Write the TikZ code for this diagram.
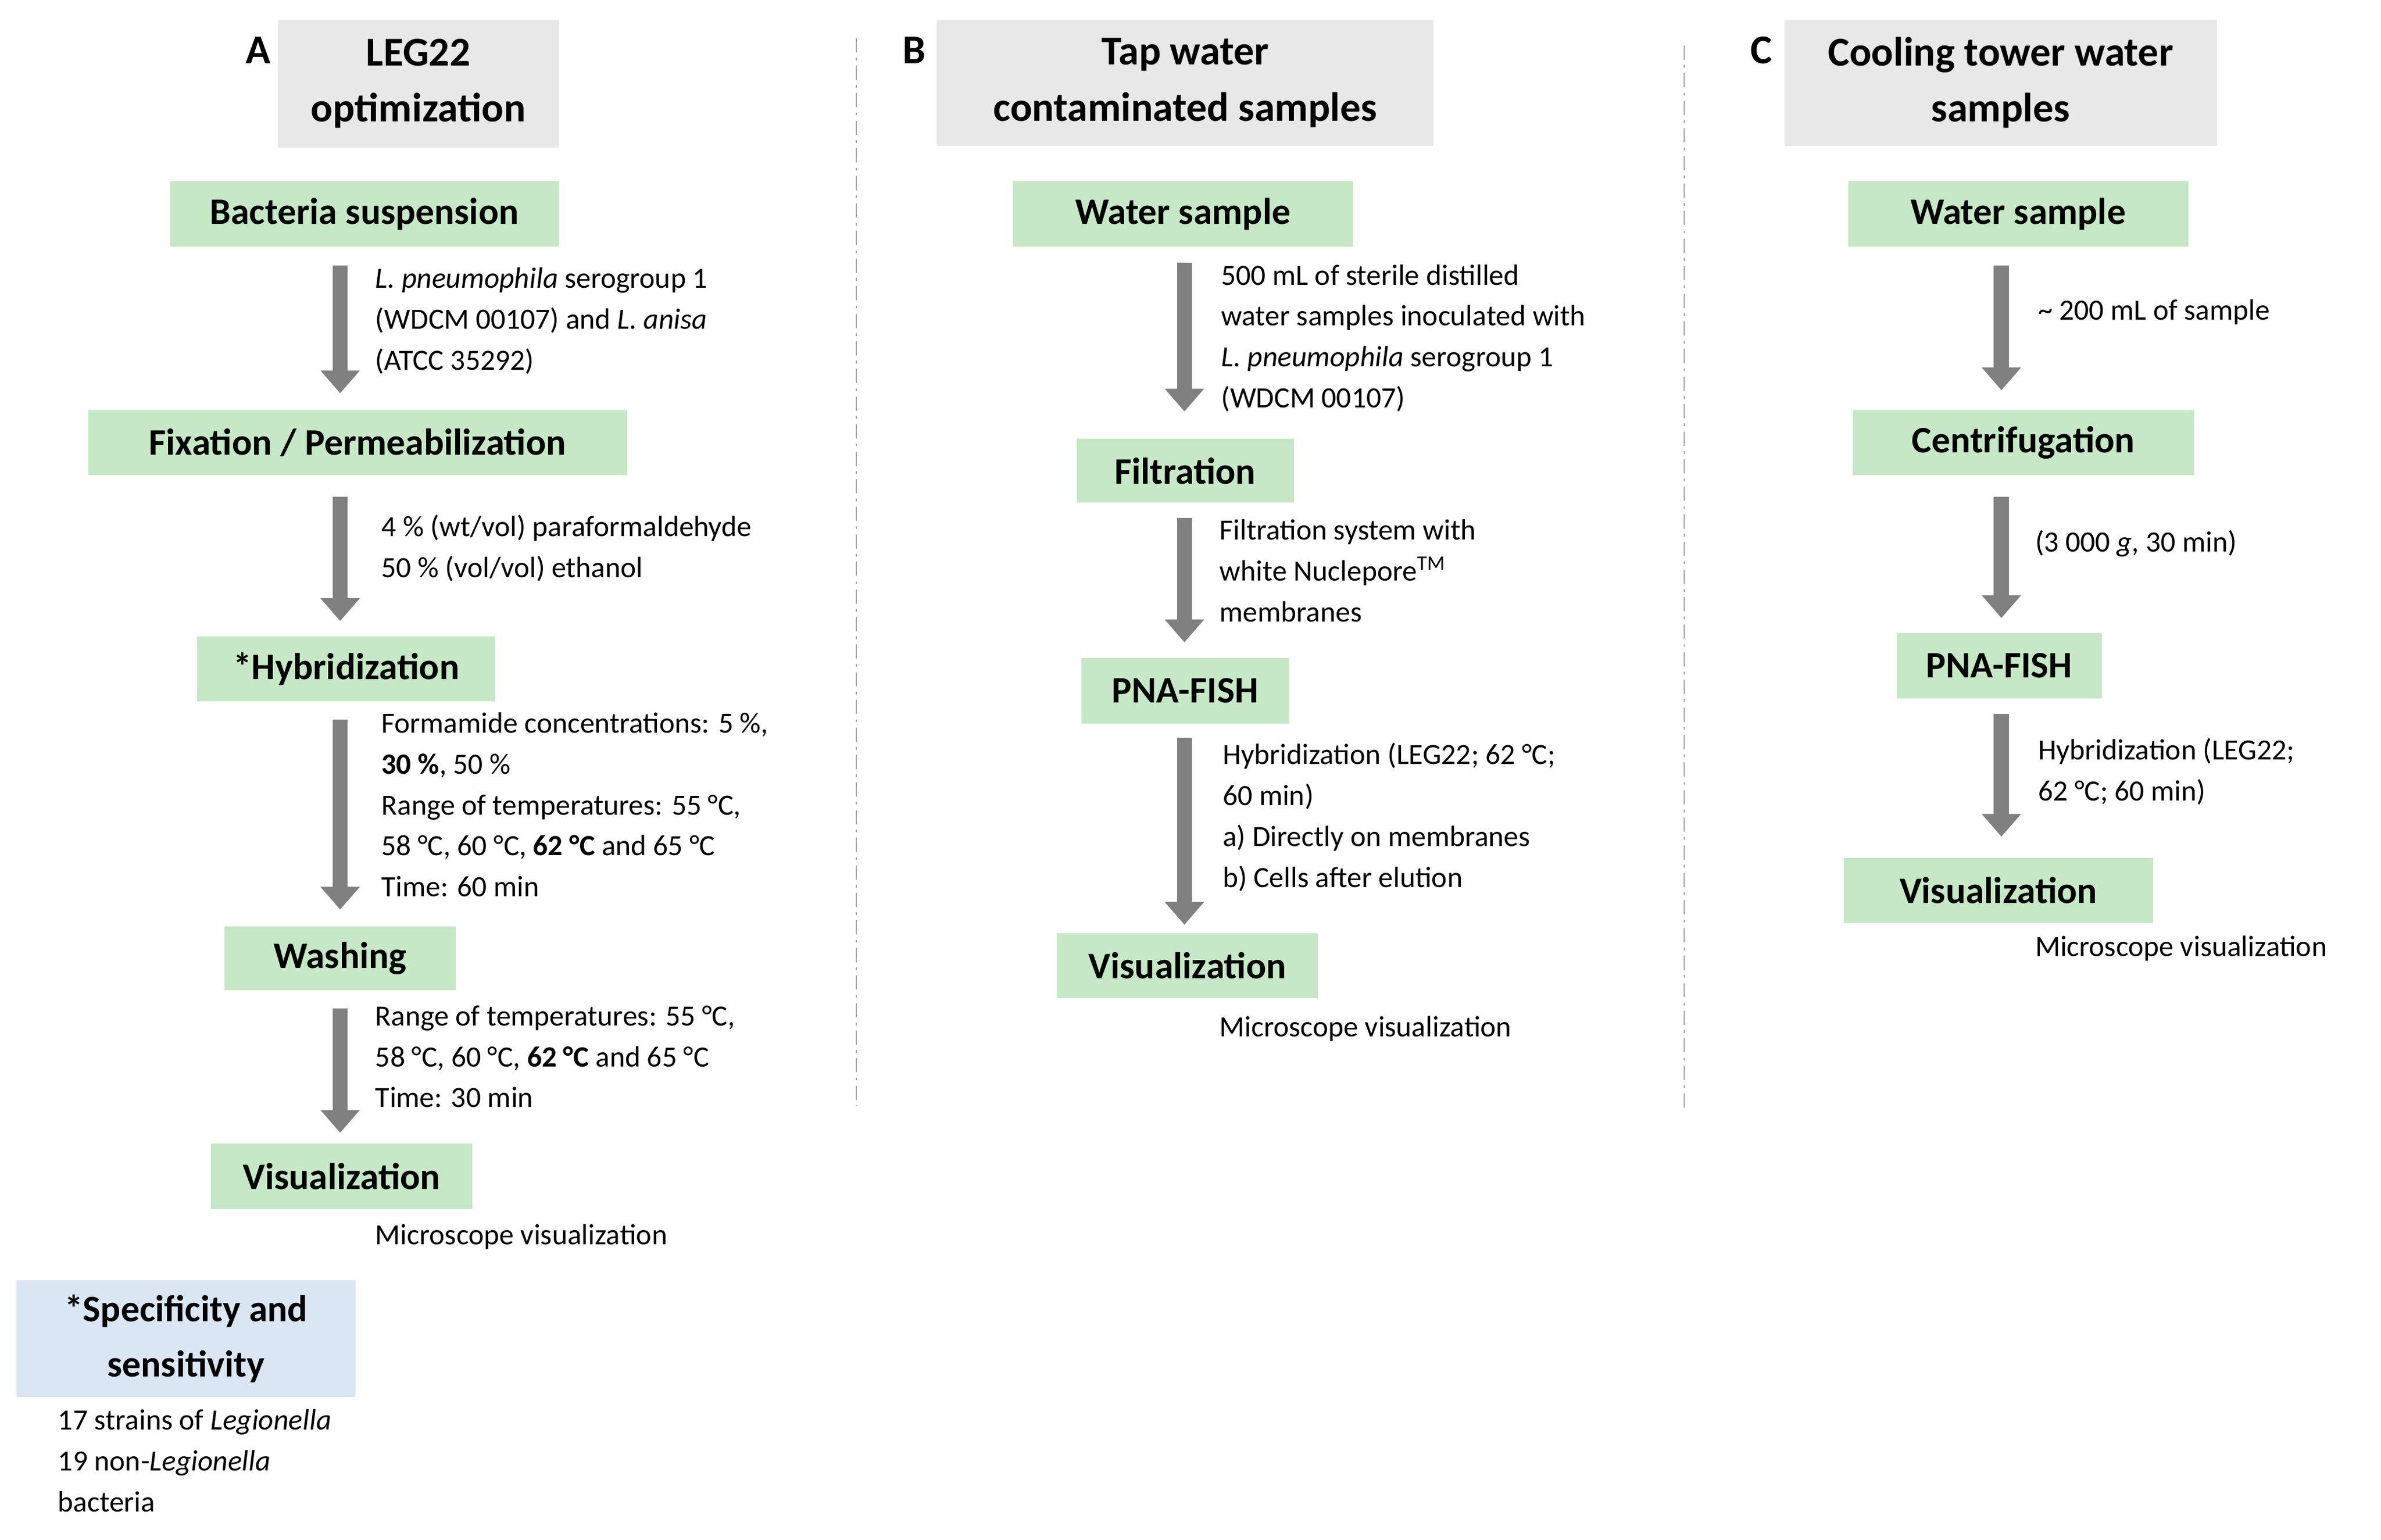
\documentclass[tikz,border=0pt]{standalone}
\usepackage{fontspec}
\setmainfont{Carlito}
\usetikzlibrary{arrows.meta}
\definecolor{boxgreen}{RGB}{198,232,198}
\definecolor{boxgray}{RGB}{232,232,232}
\definecolor{boxblue}{RGB}{218,230,243}
\definecolor{arrgray}{RGB}{128,128,128}
\tikzset{
  stage/.style={fill=boxgreen,draw=none,font=\fontsize{21}{26}\selectfont\bfseries,inner sep=0pt,anchor=center},
  head/.style={fill=boxgray,draw=none,font=\fontsize{23}{31.5}\selectfont\bfseries,align=center,inner sep=0pt},
  lab/.style={font=\fontsize{23}{28}\selectfont\bfseries},
  note/.style={anchor=north west,align=left,inner sep=0pt,font=\fontsize{16.5}{23}\selectfont},
  flow/.style={draw=arrgray,line width=0.3cm,-{Triangle[width=0.75cm,length=0.45cm]}},
  sep/.style={draw=gray!70,line width=0.6pt,dash pattern=on 8pt off 3pt on 1.5pt off 3pt}
}
\begin{document}
\begin{tikzpicture}[x=0.03cm,y=-0.03cm]
\useasboundingbox (0,0) rectangle (1568,1014);
\newcommand{\bx}[6]{\node[#1,minimum width=#4*0.03cm,minimum height=#5*0.03cm] (#2) at (#3) {#6};}
% separators
\draw[sep] (564,25) -- (564,728);
\draw[sep] (1109,30) -- (1109,730);
% Column A
\node[lab] (la) at (170,33) {A};
\bx{head}{ha}{275.5,55}{185}{84}{LEG22\\optimization}
\bx{stage}{a1}{240,141}{256}{43}{Bacteria suspension}
\bx{stage}{a2}{235.5,291.5}{355}{43}{Fixation / Permeabilization}
\bx{stage}{a3}{228,440.5}{196}{43}{*Hybridization}
\bx{stage}{a4}{224,631}{152}{42}{Washing}
\bx{stage}{a5}{225,774.5}{172}{43}{Visualization}
\node[fill=boxblue,minimum width=223*0.03cm,minimum height=77*0.03cm,inner sep=0pt,align=center,font=\fontsize{21}{31}\selectfont\bfseries] (a6) at (122.5,881.5) {*Specificity and\\sensitivity};
\coordinate (a1s) at (224,175); \coordinate (a1e) at (224,259);
\coordinate (a2s) at (224,327); \coordinate (a2e) at (224,409);
\coordinate (a3s) at (224,474); \coordinate (a3e) at (224,599);
\coordinate (a4s) at (224,664); \coordinate (a4e) at (224,746);
\draw[flow] (a1s) -- (a1e);
\draw[flow] (a2s) -- (a2e);
\draw[flow] (a3s) -- (a3e);
\draw[flow] (a4s) -- (a4e);
\node[note] (n1) at (247,176) {\textit{L. pneumophila} serogroup 1\\(WDCM 00107) and \textit{L. anisa}\\(ATCC 35292)};
\node[note] (n2) at (251,339) {4 \% (wt/vol) paraformaldehyde\\50 \% (vol/vol) ethanol};
\node[note] (n3) at (251,469) {Formamide concentrations: 5 \%,\\\textbf{30 \%}, 50 \%\\Range of temperatures: 55 °C,\\58 °C, 60 °C, \textbf{62 °C} and 65 °C\\Time: 60 min};
\node[note] (n4) at (247,662) {Range of temperatures: 55 °C,\\58 °C, 60 °C, \textbf{62 °C} and 65 °C\\Time: 30 min};
\node[note] (n5) at (247,806) {Microscope visualization};
\node[note] (n6) at (38,928) {17 strains of \textit{Legionella}\\19 non-\textit{Legionella}\\bacteria};
% Column B
\node[lab] (lb) at (602,33) {B};
\bx{head}{hb}{780.5,54.5}{327}{83}{Tap water\\contaminated samples}
\bx{stage}{b1}{779,141}{224}{43}{Water sample}
\bx{stage}{b2}{780.5,310}{143}{42}{Filtration}
\bx{stage}{b3}{780.5,455}{137}{43}{PNA-FISH}
\bx{stage}{b4}{782,636}{172}{43}{Visualization}
\coordinate (b1s) at (780,173); \coordinate (b1e) at (780,271);
\coordinate (b2s) at (780,341); \coordinate (b2e) at (780,423);
\coordinate (b3s) at (780,486); \coordinate (b3e) at (780,609);
\draw[flow] (b1s) -- (b1e);
\draw[flow] (b2s) -- (b2e);
\draw[flow] (b3s) -- (b3e);
\node[note] (m1) at (804,174) {500 mL of sterile distilled\\water samples inoculated with\\\textit{L. pneumophila} serogroup 1\\(WDCM 00107)};
\node[note] (m2) at (803,342) {Filtration system with\\white Nuclepore\textsuperscript{TM}\\membranes};
\node[note] (m3) at (805,489) {Hybridization (LEG22; 62 °C;\\60 min)\\a) Directly on membranes\\b) Cells after elution};
\node[note] (m4) at (803,669) {Microscope visualization};
% Column C
\node[lab] (lc) at (1160,33) {C};
\bx{head}{hc}{1317.5,54.5}{285}{83}{Cooling tower water\\samples}
\bx{stage}{c1}{1329,141}{224}{43}{Water sample}
\bx{stage}{c2}{1332.5,291.5}{225}{43}{Centrifugation}
\bx{stage}{c3}{1316.5,438.5}{135}{43}{PNA-FISH}
\bx{stage}{c4}{1316,586.5}{204}{43}{Visualization}
\coordinate (c1s) at (1318,175); \coordinate (c1e) at (1318,257);
\coordinate (c2s) at (1318,327); \coordinate (c2e) at (1318,407);
\coordinate (c3s) at (1318,470); \coordinate (c3e) at (1318,551);
\draw[flow] (c1s) -- (c1e);
\draw[flow] (c2s) -- (c2e);
\draw[flow] (c3s) -- (c3e);
\node[note] (k1) at (1342,197) {\textasciitilde{} 200 mL of sample};
\node[note] (k2) at (1340,349) {(3 000 \textit{g}, 30 min)};
\node[note] (k3) at (1342,486) {Hybridization (LEG22;\\62 °C; 60 min)};
\node[note] (k4) at (1340,616) {Microscope visualization};
\end{tikzpicture}
\end{document}
